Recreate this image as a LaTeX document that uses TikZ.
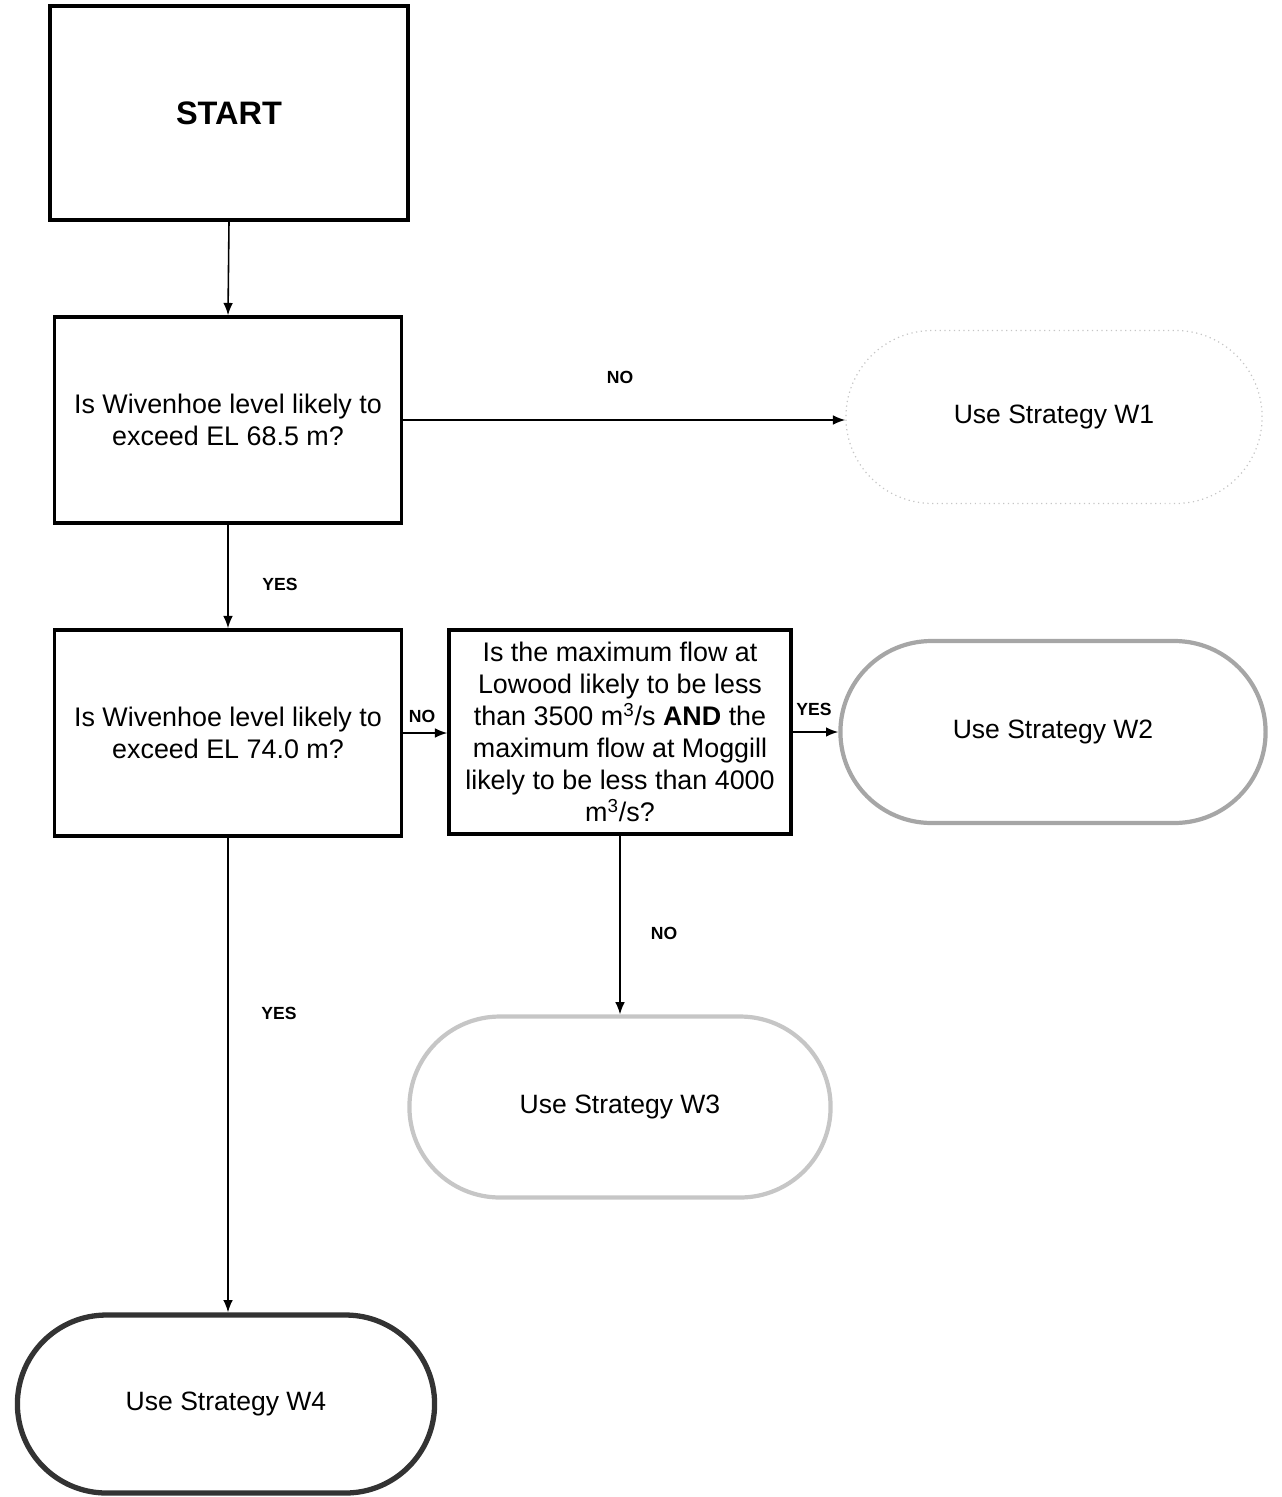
\documentclass[tikz,border=0pt]{standalone}
\usepackage{fontspec}
\setmainfont{Liberation Sans}
\usetikzlibrary{arrows.meta}
\usetikzlibrary{shapes.misc}

\begin{document}
\begin{tikzpicture}[x=0.02cm,y=-0.02cm,
  qbox/.style={draw,line width=2pt,minimum width=6.94cm,minimum height=4.12cm,
    align=center,inner sep=0pt,font=\fontsize{15.3}{18.2}\selectfont},
  endbox/.style={rounded rectangle,align=center,
    font=\fontsize{15.1}{18}\selectfont},
  flow/.style={-{Latex[length=7pt,width=5.5pt]},line width=0.9pt},
  lbl/.style={font=\fontsize{10}{12}\selectfont\bfseries}]
%\draw[help lines, color=gray!30, dashed] (0,0) grid[step=100] (1281,1497);
\useasboundingbox (0,0) rectangle (1281,1497);

\node[qbox,minimum width=7.16cm,minimum height=4.28cm,
  font=\fontsize{18.5}{22}\selectfont\bfseries] (start) at (229,113) {START};

\node[qbox] (q1) at (228,420) {Is Wivenhoe level likely to\\exceed EL 68.5 m?};
\node[qbox] (q2) at (228,733) {Is Wivenhoe level likely to\\exceed EL 74.0 m?};
\node[qbox,minimum width=6.84cm,minimum height=4.08cm] (q3) at (620,732)
  {Is the maximum flow at\\Lowood likely to be less\\than 3500 m\textsuperscript{3}/s \textbf{AND} the\\maximum flow at Moggill\\likely to be less than 4000\\m\textsuperscript{3}/s?};

\node[endbox,draw=gray!45,dotted,line width=0.7pt,minimum width=8.56cm,minimum height=3.46cm] (w1) at (1054,417) {Use Strategy W1};
\node[endbox,draw=gray!70,line width=2.4pt,minimum width=8.74cm,minimum height=3.64cm] (w2) at (1053,732) {Use Strategy W2};
\node[endbox,draw=gray!45,line width=2.4pt,minimum width=8.66cm,minimum height=3.62cm] (w3) at (620,1107) {Use Strategy W3};
\node[endbox,draw=black!80,line width=3pt,minimum width=8.58cm,minimum height=3.56cm] (w4) at (226,1404) {Use Strategy W4};

\draw[flow] (start.south) -- (q1.north);
\draw[flow] (q1.east) -- (q1.east -| w1.west);
\draw[flow] (q1.south) -- (q2.north);
\draw[flow] (q2.east) -- (q2.east -| q3.west);
\draw[flow] (q3.east) -- (q3.east -| w2.west);
\draw[flow] (q3.south) -- (w3.north);
\draw[flow] (q2.south) -- (q2.south |- w4.north);

\node[lbl] (no1) at (620,377) {NO};
\node[lbl] (yes1) at (280,584) {YES};
\node[lbl] (no2) at (422,716) {NO};
\node[lbl] (yes2) at (814,709) {YES};
\node[lbl] (no3) at (664,933) {NO};
\node[lbl] (yes3) at (279,1013) {YES};

\end{tikzpicture}
\end{document}
